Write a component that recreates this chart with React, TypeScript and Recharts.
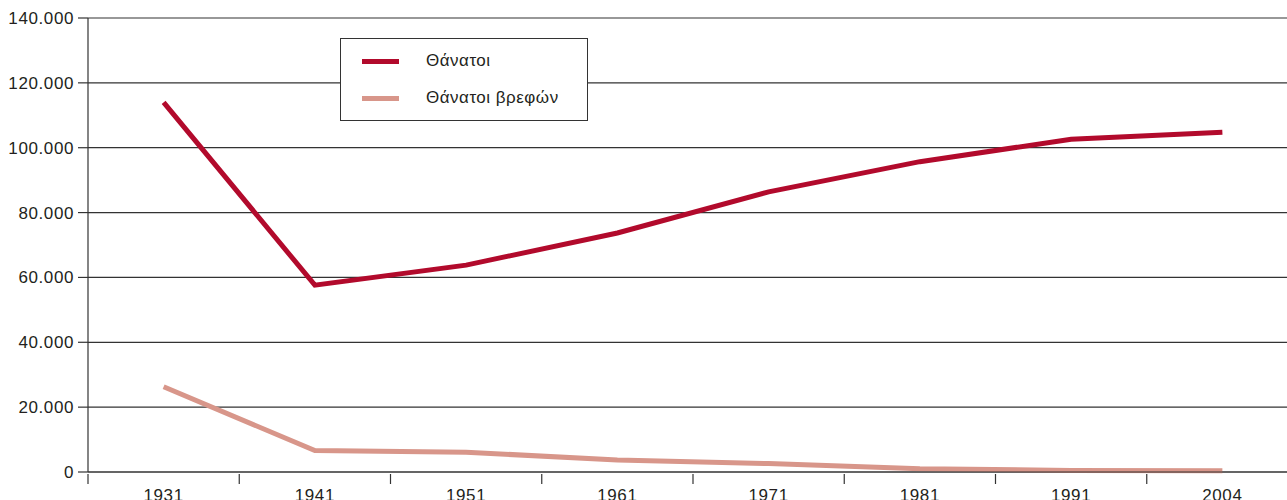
import React from "react";
import { LineChart, Line, XAxis, YAxis, CartesianGrid } from "recharts";

const years = ["1931", "1941", "1951", "1961", "1971", "1981", "1991", "2004"];
const deaths = [114000, 57600, 63800, 73700, 86400, 95700, 102600, 104800];
const infantDeaths = [26300, 6600, 6100, 3700, 2600, 1000, 500, 400];
const yTicks = [0, 20000, 40000, 60000, 80000, 100000, 120000, 140000];
const seriesNames = ["Θάνατοι", "Θάνατοι βρεφών"];

const RED = "#b20a2c";
const SALMON = "#d8968a";
const INK = "#231f20";
const FONT = '"Liberation Sans", Arial, Helvetica, sans-serif';

const data = years.map((y, i) => ({ year: y, deaths: deaths[i], infant: infantDeaths[i] }));

const fmt = (v: number) => String(v).replace(/\B(?=(\d{3})+(?!\d))/g, ".");

const XTick = (props: any) => {
  const { x, y, payload } = props;
  const off = payload && payload.offset ? payload.offset : 75.6;
  return (
    <g>
      <line x1={x - off} y1={y} x2={x - off} y2={y + 10} stroke="#333" strokeWidth={1.2} />
      <text x={x} y={y + 27} textAnchor="middle" fill={INK} fontSize={17} fontFamily={FONT} letterSpacing={0.6}>
        {payload.value}
      </text>
    </g>
  );
};

const LegendBox = () => (
  <div
    style={{
      position: "absolute",
      left: 340,
      top: 38,
      width: 246,
      height: 81,
      border: "1px solid #333",
      background: "#fff",
      fontFamily: FONT,
      fontSize: 17,
      color: INK,
    }}
  >
    {[RED, SALMON].map((c, i) => (
      <div key={i} style={{ position: "absolute", left: 0, top: i === 0 ? 10 : 47, height: 24, width: 246 }}>
        <div style={{ position: "absolute", left: 21, top: 10, width: 37, height: 5, background: c }} />
        <div style={{ position: "absolute", left: 85, top: 2, lineHeight: "20px", letterSpacing: 0.5 }}>
          {seriesNames[i]}
        </div>
      </div>
    ))}
  </div>
);

export default function App() {
  return (
    <div style={{ position: "absolute", left: 0, top: 0, width: 1287, height: 500, overflow: "hidden", background: "#fff" }}>
      <LineChart width={1300} height={500} data={data} margin={{ top: 18, right: 2, bottom: 0, left: 0 }}>
        <CartesianGrid horizontal vertical={false} stroke="#333" strokeWidth={1.2} />
        <XAxis
          dataKey="year"
          scale="band"
          height={28}
          axisLine={{ stroke: "#333", strokeWidth: 1.2 }}
          tickLine={false}
          tickSize={0}
          tick={<XTick />}
          interval={0}
        />
        <YAxis
          width={88}
          domain={[0, 140000]}
          ticks={yTicks}
          tickFormatter={fmt}
          axisLine={{ stroke: "#333", strokeWidth: 1.2 }}
          tickLine={{ stroke: "#333", strokeWidth: 1.2 }}
          tickSize={10}
          tickMargin={4}
          tick={{ fill: INK, fontSize: 17, fontFamily: FONT, letterSpacing: 0.6 }}
          interval={0}
        />
        <Line type="linear" dataKey="deaths" name={seriesNames[0]} stroke={RED} strokeWidth={5} dot={false} isAnimationActive={false} />
        <Line type="linear" dataKey="infant" name={seriesNames[1]} stroke={SALMON} strokeWidth={5} dot={false} isAnimationActive={false} />
      </LineChart>
      <LegendBox />
    </div>
  );
}
